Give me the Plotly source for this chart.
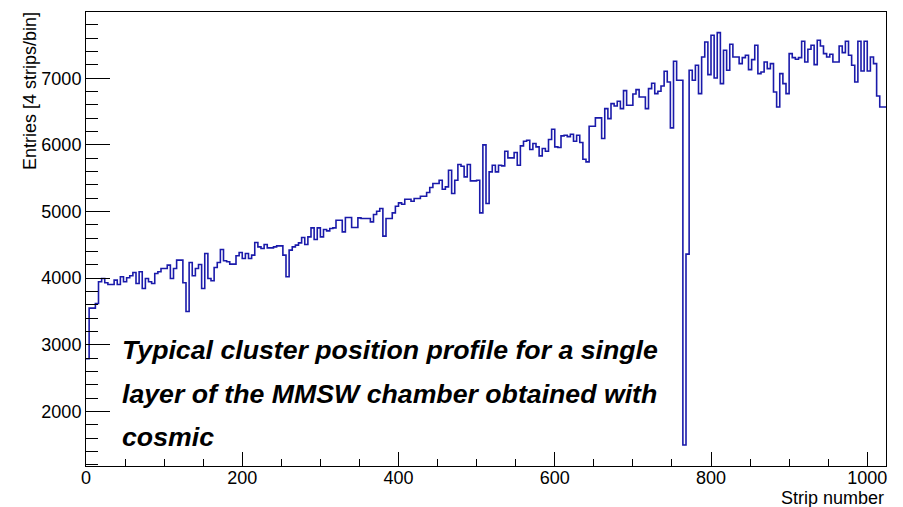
import numpy as np
import plotly.graph_objects as go

# Histogram: 256 bins of 4 strips each, strip 0..1024
bin_width = 4
n_bins = 256
entries = [
    2790, 3550, 3550, 3620, 3945, 3995, 3930, 3905, 3905, 3970,
    3905, 4020, 3945, 4005, 4035, 4085, 3920, 4095, 3845, 3995,
    3945, 3920, 4070, 4095, 4145, 4145, 4195, 3995, 4145, 4270,
    4270, 3930, 3500, 4235, 4035, 4145, 4205, 3845, 4370, 3995,
    3960, 4160, 4235, 4430, 4260, 4245, 4210, 4210, 4335, 4385,
    4295, 4370, 4295, 4345, 4535, 4470, 4445, 4505, 4455, 4455,
    4470, 4485, 4485, 4345, 4020, 4420, 4470, 4495, 4530, 4610,
    4505, 4620, 4755, 4580, 4755, 4620, 4730, 4710, 4745, 4755,
    4870, 4870, 4695, 4910, 4910, 4760, 4760, 4905, 4895, 4895,
    4895, 4845, 4955, 5005, 5045, 4630, 4895, 4895, 4980, 5080,
    5130, 5110, 5185, 5185, 5155, 5195, 5195, 5230, 5230, 5285,
    5360, 5420, 5420, 5470, 5335, 5370, 5620, 5270, 5470, 5705,
    5680, 5520, 5705, 5460, 5460, 5470, 4980, 6000, 5120, 5595,
    5695, 5595, 5695, 5685, 5905, 5805, 5805, 5885, 5695, 5985,
    6055, 6070, 5930, 6020, 5970, 5835, 5945, 5905, 6080, 6235,
    5970, 5960, 6135, 6145, 6125, 6160, 6055, 6145, 6035, 5785,
    5745, 6280, 6280, 6405, 6405, 6095, 6545, 6395, 6620, 6585,
    6655, 6545, 6815, 6595, 6595, 6765, 6830, 6720, 6720, 6545,
    6845, 6925, 6770, 6805, 6885, 7105, 6945, 6255, 7255, 6970,
    6970, 1495, 4360, 7120, 6970, 7195, 6770, 7320, 7545, 7055,
    7645, 7005, 7685, 6920, 7420, 7120, 7510, 7320, 7320, 7220,
    7310, 7345, 7130, 7280, 7495, 7070, 7095, 7245, 7145, 7220,
    6795, 6570, 7070, 6920, 6770, 7370, 7310, 7285, 7310, 7555,
    7245, 7435, 7495, 7205, 7570, 7485, 7370, 7320, 7360, 7245,
    7245, 7485, 7385, 7555, 7345, 7195, 6945, 7555, 7110, 7555,
    7110, 7320, 7220, 6735, 6570, 6570,
]
x_ticks = [0, 200, 400, 600, 800, 1000]
y_ticks = [2000, 3000, 4000, 5000, 6000, 7000]
caption_lines = [
    "Typical cluster position profile for a single",
    "layer of the MMSW chamber obtained with",
    "cosmic",
]
x_title = "Strip number"
y_title = "Entries [4 strips/bin]"

edges = np.arange(n_bins + 1) * bin_width
xs = list(edges)
ys = list(entries) + [entries[-1]]

W, H = 903, 507
ml, mr, mt, mb = 86, 17, 12, 41
pw, ph = W - ml - mr, H - mt - mb

fig = go.Figure()
fig.add_trace(go.Scatter(
    x=xs, y=ys, mode="lines", line_shape="hv",
    line=dict(color="#1a1aaa", width=1.6), hoverinfo="skip", showlegend=False,
))

font_family = "Liberation Sans, Arial, Helvetica, sans-serif"
fig.update_layout(
    width=W, height=H,
    margin=dict(l=ml, r=mr, t=mt, b=mb),
    paper_bgcolor="white", plot_bgcolor="white",
    font=dict(family=font_family, size=18, color="black"),
    showlegend=False,
)
fig.update_xaxes(
    range=[0, 1024], showgrid=False, zeroline=False,
    tickvals=x_ticks, ticks="inside", ticklen=14, tickwidth=1, tickcolor="black",
    showline=True, linecolor="black", linewidth=1, mirror=True,
    minor=dict(ticks="inside", ticklen=7, tickwidth=1, tickcolor="black", dtick=50, showgrid=False),
    tickfont=dict(size=18), ticklabelstandoff=-5,
)
fig.update_yaxes(
    range=[1180, 7995], showgrid=False, zeroline=False,
    tickvals=y_ticks, ticks="inside", ticklen=24, tickwidth=1, tickcolor="black",
    showline=True, linecolor="black", linewidth=1, mirror=True,
    minor=dict(ticks="inside", ticklen=12, tickwidth=1, tickcolor="black", dtick=200, tick0=0, showgrid=False),
    tickfont=dict(size=18),
)

def px_to_paper_x(px):
    return (px - ml) / pw

def px_to_paper_y(py):
    return (H - mb - py) / ph

line_y = [350, 394, 437]
for txt, yy in zip(caption_lines, line_y):
    fig.add_annotation(
        text="<b><i>%s</i></b>" % txt, xref="paper", yref="paper",
        x=px_to_paper_x(120), y=px_to_paper_y(yy), xanchor="left", yanchor="middle",
        showarrow=False, font=dict(size=26.7, family=font_family, color="black"),
    )

fig.add_annotation(
    text=x_title, xref="paper", yref="paper",
    x=px_to_paper_x(886), y=px_to_paper_y(498), xanchor="right", yanchor="middle",
    showarrow=False, font=dict(size=18, family=font_family),
)
fig.add_annotation(
    text=y_title, xref="paper", yref="paper", textangle=-90,
    x=px_to_paper_x(30), y=px_to_paper_y(91), xanchor="center", yanchor="middle",
    showarrow=False, font=dict(size=18, family=font_family),
)

fig.write_html("out.html")
